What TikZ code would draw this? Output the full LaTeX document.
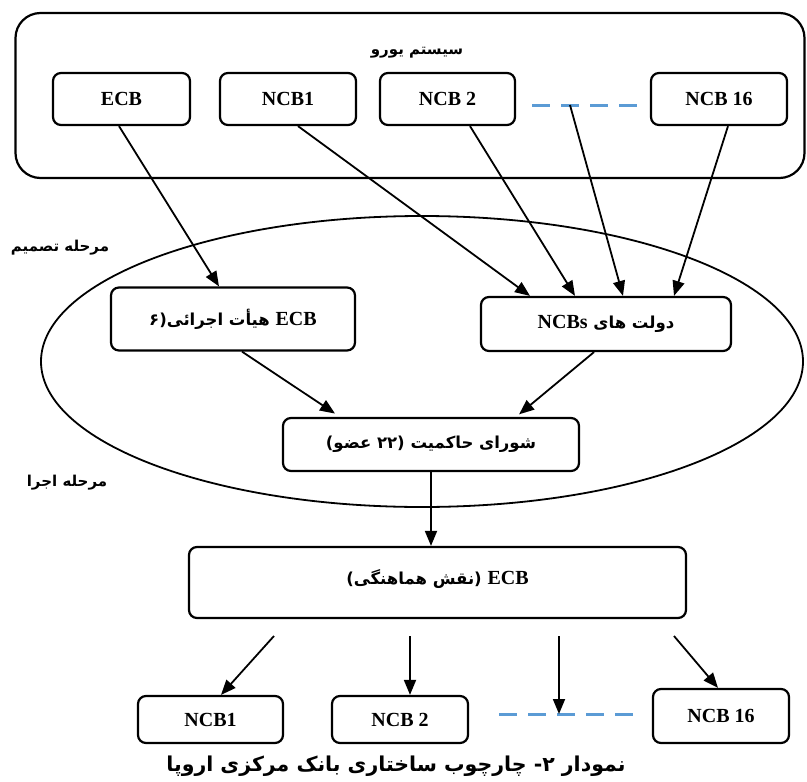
\documentclass[tikz,border=0pt]{standalone}
\usepackage{fontspec}
\setmainfont{Liberation Serif}
\newfontfamily\fa[Script=Arabic]{DejaVu Sans}
\TeXXeTstate=1
\usepackage{tikz}
\usetikzlibrary{shapes.geometric, arrows.meta, positioning, calc}
\definecolor{dashblue}{RGB}{91, 155, 213}
\newcommand{\fatxt}[1]{{\fa\bfseries\beginR #1\endR}}
\newcommand{\lat}[1]{\beginL{\rmfamily\fontsize{20}{22}\selectfont #1}\endL}

\begin{document}
\begin{tikzpicture}[x=1pt, y=-1pt,
  box/.style={draw, line width=2.2pt, rounded corners=8pt, inner sep=0pt, align=center, font=\fontsize{20}{22}\selectfont\bfseries},
  fabox/.style={box, font=\fontsize{16.5}{20}\selectfont\bfseries},
  arr/.style={-{Triangle[length=15pt, width=12pt]}, line width=1.8pt},
  dashline/.style={dashblue, line width=3pt, dash pattern=on 18pt off 11pt},
  lbl/.style={font=\fontsize{15}{18}\selectfont}]
  \useasboundingbox (0,0) rectangle (807,782);

  % Euro system
  \node[box, rounded corners=25pt, minimum width=789pt, minimum height=165pt] (euro) at (410,95.5) {};
  \node[lbl] (eurotitle) at (417,53) {\fatxt{سیستم یورو}};
  \node[box, minimum width=137pt, minimum height=52pt] (ecb) at (121.5,99) {ECB};
  \node[box, minimum width=136pt, minimum height=52pt] (ncbA) at (288,99) {NCB1};
  \node[box, minimum width=135pt, minimum height=52pt] (ncbB) at (447.5,99) {NCB 2};
  \node[box, minimum width=136pt, minimum height=52pt] (ncbP) at (719,99) {NCB 16};
  \coordinate (dotsL) at (532,105);
  \coordinate (dotsM) at (570,105);
  \coordinate (dotsR) at (637,105);
  \draw[dashline] (dotsL) -- (dotsR);

  % Decision stage
  \node[draw, ellipse, line width=1.8pt, minimum width=762pt, minimum height=291pt, inner sep=0pt] (decide) at (422,361.5) {};
  \node[lbl] (decidelbl) at (60,248) {\fatxt{مرحله تصمیم}};
  \node[fabox, minimum width=244pt, minimum height=63pt] (exec) at (233,319) {\fatxt{\lat{ECB} هیأت اجرائی(۶}};
  \node[fabox, minimum width=250pt, minimum height=54pt] (ncbs) at (606,324) {\fatxt{دولت های \lat{NCBs}}};
  \node[fabox, minimum width=296pt, minimum height=53pt] (council) at (431,444.5) {\fatxt{شورای حاکمیت (۲۲ عضو)}};
  \draw[arr] ([xshift=-2.5pt]ecb.south) -- ([xshift=-14pt]exec.north);
  \draw[arr] ([xshift=10pt]ncbA.south) -- ([xshift=-76pt]ncbs.north);
  \draw[arr] ([xshift=22.5pt]ncbB.south) -- ([xshift=-31pt]ncbs.north);
  \draw[arr] (dotsM) -- ([xshift=17pt]ncbs.north);
  \draw[arr] ([xshift=9pt]ncbP.south) -- ([xshift=68pt]ncbs.north);
  \draw[arr, shorten >=6pt] ([xshift=9pt]exec.south) -- ([xshift=-91pt]council.north);
  \draw[arr, shorten >=4pt] ([xshift=-12pt]ncbs.south) -- ([xshift=85pt]council.north);

  % Execution stage
  \node[lbl] (execlbl) at (67,483) {\fatxt{مرحله اجرا}};
  \node[fabox, minimum width=497pt, minimum height=71pt, text depth=12pt] (coord) at (437.5,582.5) {\fatxt{\lat{ECB} (نقش هماهنگی)}};
  \draw[arr] (council.south) -- (council.south |- coord.north);

  \node[box, minimum width=145pt, minimum height=47pt] (botA) at (210.5,719.5) {NCB1};
  \node[box, minimum width=136pt, minimum height=47pt] (botB) at (400,719.5) {NCB 2};
  \node[box, minimum width=136pt, minimum height=54pt] (botP) at (721,716) {NCB 16};
  \coordinate (lowL) at (499,714);
  \coordinate (lowM) at (559,714);
  \coordinate (lowR) at (633,714);
  \draw[dashline] (lowL) -- (lowR);
  \coordinate (fromA) at (274,636);
  \coordinate (fromB) at (410,636);
  \coordinate (fromC) at (559,636);
  \coordinate (fromP) at (674,636);
  \draw[arr] (fromA) -- ([xshift=10.5pt]botA.north);
  \draw[arr] (fromB) -- ([xshift=10pt]botB.north);
  \draw[arr] (fromC) -- (lowM);
  \draw[arr] (fromP) -- ([xshift=-3pt]botP.north);

  % Caption
  \node[font=\fontsize{20.5}{24}\selectfont] (caption) at (396,766) {\fatxt{نمودار ۲- چارچوب ساختاری بانک مرکزی اروپا}};
\end{tikzpicture}
\end{document}
